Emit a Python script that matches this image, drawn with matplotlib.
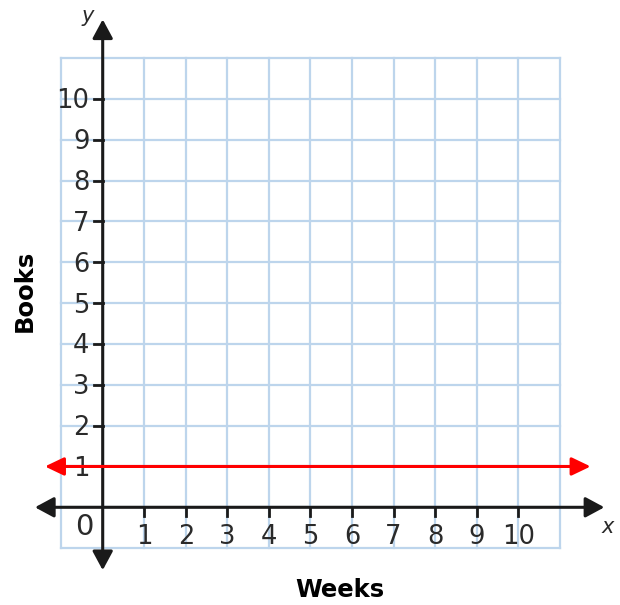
import matplotlib
matplotlib.use("Agg")
import matplotlib.pyplot as plt

# chart data
grid_x = list(range(-1, 12))
grid_y = list(range(-1, 12))
x_ticks = [1, 2, 3, 4, 5, 6, 7, 8, 9, 10]
y_ticks = [1, 2, 3, 4, 5, 6, 7, 8, 9, 10]
x_tick_labels = [str(v) for v in x_ticks]
y_tick_labels = [str(v) for v in y_ticks]
line_y = 1
line_x = [-1.39, 11.74]

fig = plt.figure(figsize=(6.2, 6.05), dpi=100)
ax = fig.add_axes([0, 0, 1, 1])
ax.set_xlim(-2.471, 12.447)
ax.set_ylim(-2.393, 12.425)
ax.axis("off")

grid_color = "#bdd5ec"
for gx in grid_x:
    ax.plot([gx, gx], [grid_y[0], grid_y[-1]], color=grid_color, lw=1.6, zorder=1,
            solid_capstyle="projecting")
for gy in grid_y:
    ax.plot([grid_x[0], grid_x[-1]], [gy, gy], color=grid_color, lw=1.6, zorder=1,
            solid_capstyle="projecting")

# axes with arrows
axis_style = dict(arrowstyle="<|-|>,head_length=1.15,head_width=0.62",
                  mutation_scale=10, color="#1a1a1a", lw=2.2,
                  shrinkA=0, shrinkB=0)
ax.annotate("", xy=(12.07, 0), xytext=(-1.63, 0), arrowprops=axis_style, zorder=4)
ax.annotate("", xy=(0, 11.95), xytext=(0, -1.54), arrowprops=axis_style, zorder=4)

# ticks
for t in x_ticks:
    ax.plot([t, t], [0, -0.22], color="#1a1a1a", lw=2.0, zorder=4)
for t in y_ticks:
    ax.plot([0, -0.22], [t, t], color="#1a1a1a", lw=2.0, zorder=4)

label_color = "#2a2a2a"
for t, lab in zip(x_ticks, x_tick_labels):
    ax.text(t, -0.72, lab, ha="center", va="center", fontsize=18.5, color=label_color)
for t, lab in zip(y_ticks, y_tick_labels):
    ax.text(-0.32, t - 0.06, lab, ha="right", va="center", fontsize=18.5, color=label_color)
ax.text(-0.45, -0.48, "0", ha="center", va="center", fontsize=21, color=label_color)

# red line y = 1
red_style = dict(arrowstyle="<|-|>,head_length=1.15,head_width=0.55",
                 mutation_scale=10, color="#ff0000", lw=2.2,
                 shrinkA=0, shrinkB=0)
ax.annotate("", xy=(line_x[1], line_y), xytext=(line_x[0], line_y),
            arrowprops=red_style, zorder=5)

# axis names
ax.text(-0.35, 12.03, "y", style="italic", ha="center", va="center", fontsize=15, color=label_color)
ax.text(12.14, -0.48, "x", style="italic", ha="center", va="center", fontsize=15, color=label_color)
ax.text(-1.87, 5.30, "Books", rotation=90, fontweight="bold", ha="center", va="center",
        fontsize=17.5, color="black")
ax.text(5.71, -2.02, "Weeks", fontweight="bold", ha="center", va="center",
        fontsize=17.5, color="black")

fig.savefig("out.png", dpi=100)
